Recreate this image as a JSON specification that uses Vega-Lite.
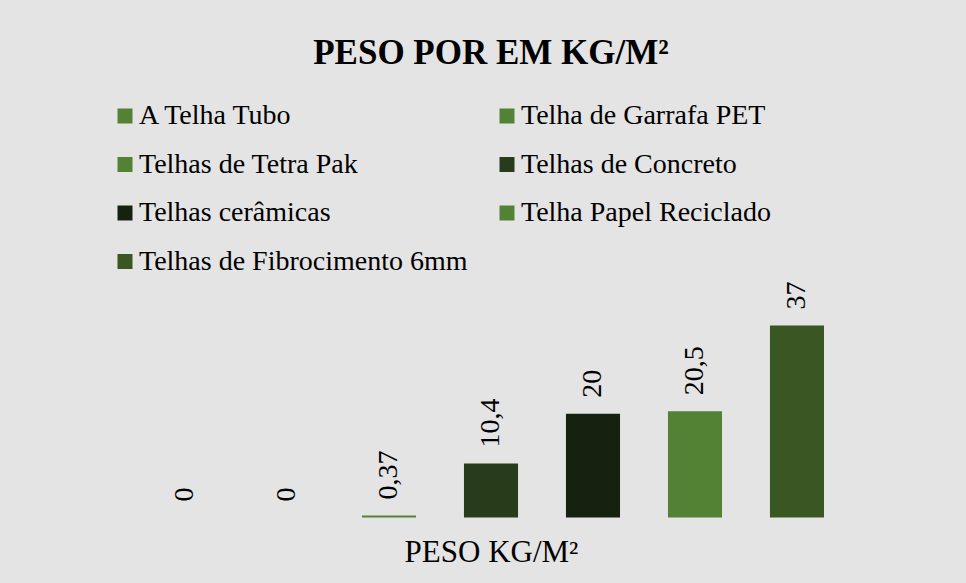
{
  "$schema": "https://vega.github.io/schema/vega-lite/v6.json",
  "width": 870,
  "height": 207.5,
  "autosize": {"type": "none"},
  "padding": {"left": 56, "top": 310, "right": 40, "bottom": 65.5},
  "background": "#e4e4e4",
  "config": {
    "view": {"stroke": null},
    "font": "Liberation Serif",
    "locale": {"number": {"decimal": ",", "thousands": ".", "grouping": [3], "currency": ["R$", ""]}}
  },
  "title": {
    "text": "PESO POR EM KG/M²",
    "font": "Liberation Serif",
    "fontSize": 35,
    "fontWeight": "bold",
    "color": "#000000",
    "anchor": "middle",
    "offset": 31
  },
  "data": {
    "values": [
      {"tipo": "A Telha Tubo", "peso": 0},
      {"tipo": "Telha de Garrafa PET", "peso": 0},
      {"tipo": "Telhas de Tetra Pak", "peso": 0.37},
      {"tipo": "Telhas de Concreto", "peso": 10.4},
      {"tipo": "Telhas cerâmicas", "peso": 20},
      {"tipo": "Telha Papel Reciclado", "peso": 20.5},
      {"tipo": "Telhas de Fibrocimento 6mm", "peso": 37}
    ]
  },
  "encoding": {
    "x": {
      "field": "tipo",
      "type": "nominal",
      "sort": null,
      "scale": {"paddingInner": 0.47, "paddingOuter": 1},
      "axis": {
        "labels": false,
        "ticks": false,
        "domain": false,
        "title": "PESO KG/M²",
        "titleFont": "Liberation Serif",
        "titleFontSize": 31,
        "titleFontWeight": "normal",
        "titleColor": "#000000",
        "titlePadding": 20
      }
    },
    "y": {
      "field": "peso",
      "type": "quantitative",
      "scale": {"domain": [0, 40], "nice": false},
      "axis": null
    }
  },
  "layer": [
    {
      "mark": {"type": "bar"},
      "encoding": {
        "color": {
          "field": "tipo",
          "type": "nominal",
          "sort": null,
          "scale": {
            "domain": ["A Telha Tubo", "Telha de Garrafa PET", "Telhas de Tetra Pak", "Telhas de Concreto", "Telhas cerâmicas", "Telha Papel Reciclado", "Telhas de Fibrocimento 6mm"],
            "range": ["#548235", "#548235", "#548235", "#283c1b", "#162210", "#548235", "#3a5723"]
          },
          "legend": {
            "orient": "none",
            "legendX": 55,
            "legendY": -208,
            "columns": 2,
            "direction": "horizontal",
            "title": null,
            "symbolType": "square",
            "symbolSize": 225,
            "symbolStrokeWidth": 0,
            "labelFont": "Liberation Serif",
            "labelFontSize": 28,
            "labelColor": "#000000",
            "labelLimit": 600,
            "labelOffset": 0,
            "rowPadding": 20.5,
            "columnPadding": 25,
            "padding": 0
          }
        }
      }
    },
    {
      "mark": {
        "type": "text",
        "angle": 270,
        "align": "left",
        "baseline": "middle",
        "dx": 16,
        "fontSize": 28,
        "font": "Liberation Serif",
        "color": "#000000"
      },
      "encoding": {
        "text": {"field": "peso", "type": "quantitative", "format": "~g"}
      }
    }
  ]
}
